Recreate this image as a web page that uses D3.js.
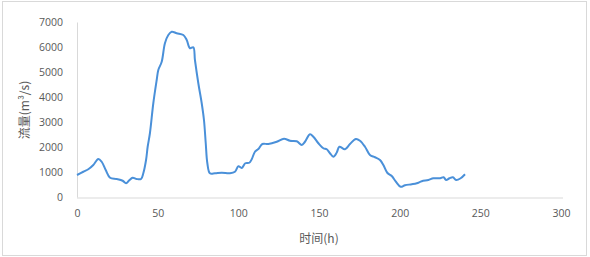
<!DOCTYPE html>
<html>
<head>
<meta charset="utf-8">
<script src="https://cdn.jsdelivr.net/npm/d3@7"></script>
<style>
  body { margin: 0; background: #fff; }
  .tick text { font-family: "Open Sans", sans-serif; font-size: 10.5px; fill: #595959; }
  .axistext { font-family: "Noto Sans CJK SC", sans-serif; font-size: 12px; fill: #595959; }
</style>
</head>
<body>
<div class="chart"></div>
<script>
// data: time (h) and flow (m3/s)
var hours = [0, 3.9, 7, 10.1, 13.2, 15.3, 17.8, 20.5, 24.6, 28.3, 30.4, 32.4, 34.5, 37, 39.7, 41.1, 42.8, 43.8, 45.2, 47.3,
  49.4, 50.4, 52.5, 54.5, 56.6, 58.7, 61.8, 65.9, 68, 70, 72.1, 73.1, 75.2, 77.3, 78.7, 79.8, 80.8, 82.4, 85.5, 89.7,
  94.8, 97.9, 100, 102.1, 104.3, 106.8, 108.3, 110.3, 112.4, 114.9, 118.6, 123.8, 128.3, 132, 136.2, 139.3, 141.3, 144.4, 146.5, 149.6,
  152.7, 154.8, 156.8, 158.9, 161, 162.6, 166.1, 169.2, 172.9, 175.4, 178.5, 181.6, 184.7, 187.8, 189.9, 192.3, 195.1, 197.7, 200.6, 203.3,
  207.5, 210.6, 213.7, 217.8, 220.9, 225.1, 227.2, 228.8, 230.9, 233, 235, 237.8, 240.5];
var flow = [900, 1030, 1130, 1300, 1540, 1430, 1100, 790, 740, 670, 570, 690, 790, 740, 740, 970, 1500, 2030, 2570, 3770,
  4700, 5100, 5430, 6170, 6500, 6630, 6570, 6500, 6300, 5970, 6010, 5500, 4570, 3770, 3100, 2170, 1370, 970, 970, 990,
  970, 1030, 1250, 1180, 1370, 1390, 1530, 1830, 1940, 2140, 2140, 2230, 2350, 2270, 2250, 2100, 2230, 2530, 2430, 2170,
  1970, 1930, 1770, 1630, 1800, 2030, 1930, 2140, 2340, 2270, 2030, 1700, 1610, 1500, 1300, 990, 860, 630, 430, 490,
  530, 570, 650, 700, 770, 770, 810, 700, 770, 810, 700, 770, 930];
var xTicks = [0, 50, 100, 150, 200, 250, 300];
var yTicks = [0, 1000, 2000, 3000, 4000, 5000, 6000, 7000];

var xaxistext = "时间(h)";
var yaxistext = "流量(m³/s)";

var data = hours.map(function(h, i) { return {x: h, y: flow[i]}; });

var W = 590, H = 257;
var margin = {top: 22.5, right: 29, bottom: 59.5, left: 77},
    width = 561 - margin.left,
    height = 197.5 - margin.top;

var root = d3.select(".chart").append("svg")
    .attr("width", W)
    .attr("height", H);

// outer chart border
root.append("rect")
    .attr("x", 2.5).attr("y", 1.5)
    .attr("width", 584).attr("height", 254)
    .attr("fill", "#fff")
    .attr("stroke", "#d9d9d9");

var svg = root.append("g")
    .attr("transform", "translate(" + margin.left + "," + margin.top + ")");

var x = d3.scaleLinear().domain([0, 300]).range([0, width]);
var y = d3.scaleLinear().domain([0, 7000]).range([height, 0]);

var xAxis = d3.axisBottom(x).tickValues(xTicks).tickSize(0).tickPadding(12).tickFormat(d3.format("d"));
var yAxis = d3.axisLeft(y).tickValues(yTicks).tickSize(0).tickPadding(14).tickFormat(d3.format("d"));

var gx = svg.append("g")
    .attr("transform", "translate(0," + height + ")")
    .call(xAxis);
gx.select(".domain").attr("stroke", "#d9d9d9").attr("d", "M0,0.5H" + (width + 2));

var gy = svg.append("g").call(yAxis);
gy.select(".domain").attr("stroke", "#d9d9d9").attr("d", "M0.5,0V" + height);

// flow line
var line = d3.line()
    .x(function(d) { return x(d.x); })
    .y(function(d) { return y(d.y); })
    .curve(d3.curveCatmullRom.alpha(0.5));

svg.append("path")
    .datum(data)
    .attr("fill", "none")
    .attr("stroke", "#4a90d9")
    .attr("stroke-width", 2)
    .attr("stroke-linejoin", "round")
    .attr("d", line);

// axis titles
root.append("text")
    .attr("class", "axistext")
    .attr("x", 319).attr("y", 243)
    .style("text-anchor", "middle")
    .text(xaxistext);

root.append("text")
    .attr("class", "axistext")
    .attr("transform", "translate(29,110) rotate(-90)")
    .style("text-anchor", "middle")
    .text(yaxistext);
</script>
</body>
</html>
